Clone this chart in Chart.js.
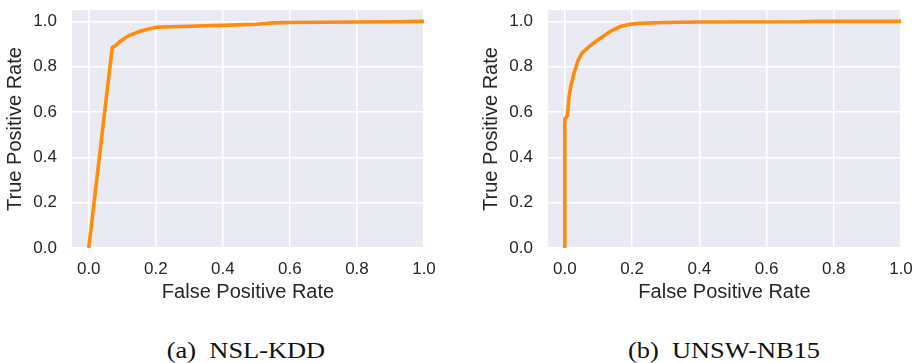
<!DOCTYPE html>
<html>
<head>
<meta charset="utf-8">
<script src="https://cdn.jsdelivr.net/npm/chart.js@4.4.1/dist/chart.umd.min.js"></script>
<style>
  html, body { margin: 0; padding: 0; background: #fff; }
  #wrap { position: relative; width: 919px; height: 363px; overflow: hidden; }
  canvas { position: absolute; top: 0; }
  #rocA { left: 0; }
  #rocB { left: 476px; }
  .caption {
    position: absolute; top: 338px;
    font-family: "Liberation Serif", "Times New Roman", serif;
    font-size: 24px; line-height: 24px; color: #111;
    white-space: pre;
    transform: translateX(-50%) scaleX(1.1);
  }
</style>
</head>
<body>
<div id="wrap">
  <canvas id="rocA" width="460" height="310"></canvas>
  <canvas id="rocB" width="443" height="310"></canvas>
  <div class="caption" style="left:246px">(a)  NSL-KDD</div>
  <div class="caption" style="left:724px">(b)  UNSW-NB15</div>
</div>
<script>
// ROC 曲線のデータ
const nslFpr = [0, 0.07, 0.08, 0.095, 0.12, 0.155, 0.18, 0.2, 0.3, 0.4, 0.5, 0.55, 0.6, 0.8, 0.92, 1.0];
const nslTpr = [0, 0.884, 0.893, 0.913, 0.937, 0.957, 0.966, 0.974, 0.978, 0.982, 0.987, 0.993, 0.995, 0.997, 0.998, 1.0];

const unswFpr = [0, 0, 0.008, 0.012, 0.018, 0.028, 0.04, 0.052, 0.07, 0.087, 0.11, 0.137, 0.165, 0.19, 0.22, 0.3, 0.4, 0.7, 0.75, 1.0];
const unswTpr = [0, 0.568, 0.585, 0.66, 0.715, 0.774, 0.83, 0.862, 0.885, 0.906, 0.93, 0.957, 0.977, 0.986, 0.991, 0.995, 0.997, 0.998, 1.0, 1.0];

const xTickVals = [0, 0.2, 0.4, 0.6, 0.8, 1.0];
const yTickVals = [0, 0.2, 0.4, 0.6, 0.8, 1.0];
const xTitle = 'False Positive Rate';
const yTitle = 'True Positive Rate';

const textColor = '#262626';
const fontFamily = '"Liberation Sans", Arial, sans-serif';

// プロット領域の背景 (seaborn風)
const bgPlugin = {
  id: 'plotBg',
  beforeDraw(chart) {
    const { ctx, chartArea: a } = chart;
    ctx.save();
    ctx.fillStyle = '#eaeaf2';
    ctx.fillRect(a.left, a.top, a.right - a.left, a.bottom - a.top);
    ctx.restore();
  },
};

function makeRoc(canvasId, fpr, tpr, rightPad) {
  const points = fpr.map((x, i) => ({ x: x, y: tpr[i] }));
  return new Chart(document.getElementById(canvasId), {
    type: 'line',
    data: {
      datasets: [
        {
          data: points,
          borderColor: '#ff8c0a',
          borderWidth: 3.6,
          pointRadius: 0,
          tension: 0,
          fill: false,
        },
      ],
    },
    options: {
      responsive: false,
      animation: false,
      events: [],
      layout: { padding: { top: 10, right: rightPad, left: 0, bottom: 0 } },
      plugins: { legend: { display: false }, tooltip: { enabled: false } },
      scales: {
        x: {
          type: 'linear',
          min: -0.05,
          max: 1.0,
          afterBuildTicks: (s) => { s.ticks = xTickVals.map((v) => ({ value: v })); },
          afterFit: (s) => {
            s.height = 62;
            s.paddingLeft = 0;
            s.paddingRight = 0;
          },
          grid: { color: '#ffffff', lineWidth: 1.5, drawTicks: false },
          border: { display: false },
          ticks: {
            padding: 11,
            color: textColor,
            font: { family: fontFamily, size: 17 },
            callback: (v) => Number(v).toFixed(1),
            maxRotation: 0,
          },
          title: {
            display: true,
            text: xTitle,
            color: textColor,
            font: { family: fontFamily, size: 20 },
            padding: { top: 0, bottom: 6 },
          },
        },
        y: {
          type: 'linear',
          min: 0,
          max: 1.05,
          afterBuildTicks: (s) => { s.ticks = yTickVals.map((v) => ({ value: v })); },
          afterFit: (s) => {
            s.width = 72;
            s.paddingTop = 0;
            s.paddingBottom = 0;
          },
          grid: { color: '#ffffff', lineWidth: 1.5, drawTicks: false },
          border: { display: false },
          ticks: {
            padding: 15,
            color: textColor,
            font: { family: fontFamily, size: 17 },
            callback: (v) => Number(v).toFixed(1),
          },
          title: {
            display: true,
            text: yTitle,
            color: textColor,
            font: { family: fontFamily, size: 20 },
            padding: { top: 3, bottom: 0 },
          },
        },
      },
    },
    plugins: [bgPlugin],
  });
}

makeRoc('rocA', nslFpr, nslTpr, 36);
makeRoc('rocB', unswFpr, unswTpr, 18);
</script>
</body>
</html>
